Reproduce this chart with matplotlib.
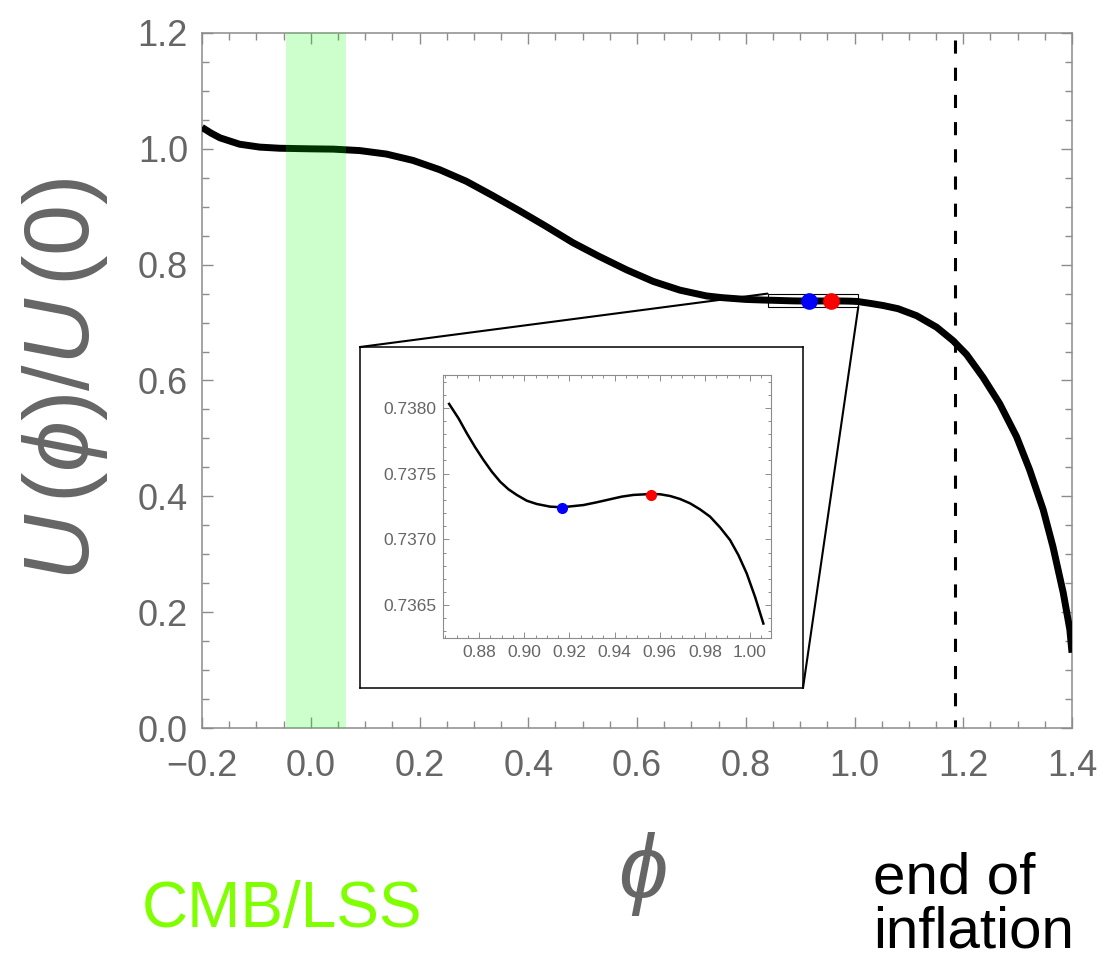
import numpy as np
import matplotlib
matplotlib.use('Agg')
import matplotlib.pyplot as plt
from matplotlib.patches import Rectangle, ConnectionPatch
from matplotlib.ticker import MultipleLocator, FormatStrFormatter, FuncFormatter

plt.rcParams['font.family'] = ['Liberation Sans', 'DejaVu Sans']
plt.rcParams['mathtext.fontset'] = 'custom'
plt.rcParams['mathtext.rm'] = 'Liberation Sans'
plt.rcParams['mathtext.it'] = 'Liberation Sans:italic'
plt.rcParams['mathtext.fallback'] = 'stixsans'

# U(phi)/U(0)
phiLeft = [-0.2, -0.183, -0.167, -0.131, -0.094, -0.057, 0.0, 0.041, 0.090, 0.139, 0.188, 0.237,
           0.286, 0.335, 0.384, 0.433, 0.482, 0.531, 0.581, 0.630, 0.679, 0.728, 0.757, 0.8,
           0.83, 0.85]
uLeft = [1.037, 1.027, 1.019, 1.008, 1.003, 1.001, 1.000, 0.9995, 0.997, 0.991, 0.980, 0.964,
         0.944, 0.919, 0.893, 0.866, 0.838, 0.814, 0.791, 0.771, 0.756, 0.746, 0.743, 0.740,
         0.739, 0.7385]
phiRight = [1.03, 1.0525, 1.08, 1.114, 1.151, 1.181, 1.206, 1.236, 1.267, 1.298, 1.322, 1.347,
            1.365, 1.384, 1.396, 1.4]
uRight = [0.733, 0.7295, 0.724, 0.712, 0.692, 0.669, 0.645, 0.606, 0.560, 0.503, 0.446, 0.377,
          0.313, 0.233, 0.170, 0.13]

# plateau
phiZoom = [0.86671, 0.87085, 0.87454, 0.87823, 0.88192, 0.88561, 0.88930, 0.89299, 0.89668,
           0.90111, 0.90554, 0.91144, 0.91661, 0.92621, 0.93211, 0.93802, 0.94318, 0.94835,
           0.95617, 0.96016, 0.96459, 0.96902, 0.97345, 0.97788, 0.98230, 0.98673, 0.99116,
           0.99485, 0.99854, 1.00223, 1.00592]
uZoom = [0.738030, 0.737921, 0.737807, 0.737701, 0.737604, 0.737515, 0.737439, 0.737381, 0.737338,
         0.737294, 0.737269, 0.737249, 0.737244, 0.737261, 0.737282, 0.737305, 0.737325, 0.737338,
         0.737345, 0.737343, 0.737330, 0.737307, 0.737274, 0.737228, 0.737173, 0.737091, 0.736995,
         0.736881, 0.736741, 0.736563, 0.736360]

phiMin, uMin = 0.9166, 0.73724
phiMax, uMax = 0.9562, 0.73734
cmbBand = (-0.045, 0.065)
phiEnd = 1.184
zoomX = (0.84, 1.007)
zoomY = (0.727, 0.750)

W, H = 1101, 966
def pixbox(x0, y0, x1, y1):
    return [x0 / W, 1 - y1 / H, (x1 - x0) / W, (y1 - y0) / H]

gray = '#666666'
spineGray = '#8c8c8c'
minusFmt = FuncFormatter(lambda v, p: ('%.1f' % v).replace('-', '\u2212'))

fig = plt.figure(figsize=(W / 100, H / 100), dpi=100)
ax = fig.add_axes(pixbox(202, 33, 1072, 728))

phiAll = np.concatenate([phiLeft, phiZoom, phiRight])
uAll = np.concatenate([uLeft, uZoom, uRight])
ax.plot(phiAll, uAll, color='black', lw=5, solid_capstyle='butt', solid_joinstyle='round', zorder=3)
ax.axvspan(cmbBand[0], cmbBand[1], color='#00ff00', alpha=0.2, lw=0, zorder=4)
ax.plot([phiEnd, phiEnd], [1.188, 0.0], color='black', lw=2.2, dashes=(4.3, 4.6), zorder=2)
ax.add_patch(Rectangle((zoomX[0], zoomY[0]), zoomX[1] - zoomX[0], zoomY[1] - zoomY[0],
                       fill=False, ec='black', lw=0.8, zorder=2))
ax.plot([phiMin], [uMin], 'o', color='blue', ms=11, zorder=5)
ax.plot([phiMax], [uMax], 'o', color='red', ms=11, zorder=5)

ax.set_xlim(-0.2, 1.4)
ax.set_ylim(0, 1.2)
ax.xaxis.set_major_locator(MultipleLocator(0.2))
ax.xaxis.set_minor_locator(MultipleLocator(0.05))
ax.yaxis.set_major_locator(MultipleLocator(0.2))
ax.yaxis.set_minor_locator(MultipleLocator(0.05))
ax.xaxis.set_major_formatter(minusFmt)
ax.yaxis.set_major_formatter(minusFmt)
ax.tick_params(which='both', direction='in', top=True, right=True, color=spineGray, width=1.0)
ax.tick_params(which='major', length=8, labelsize=26, labelcolor=gray)
ax.tick_params(axis='x', which='major', pad=15)
ax.tick_params(axis='y', which='major', pad=10)
ax.tick_params(which='minor', length=5)
for s in ax.spines.values():
    s.set_color(spineGray)
    s.set_linewidth(1.1)

# inset frame and inset axes
frame = fig.add_axes(pixbox(360, 347, 803, 688))
frame.set_xticks([])
frame.set_yticks([])
for s in frame.spines.values():
    s.set_color('black')
    s.set_linewidth(1.1)

ins = fig.add_axes(pixbox(443, 375, 771, 638))
ins.plot(phiZoom, uZoom, color='black', lw=1.8, solid_joinstyle='round')
ins.plot([phiMin], [uMin], 'o', color='blue', ms=7)
ins.plot([phiMax], [uMax], 'o', color='red', ms=7)
ins.set_xlim(0.864, 1.0093)
ins.set_ylim(0.73625, 0.73825)
ins.xaxis.set_major_locator(MultipleLocator(0.02))
ins.xaxis.set_minor_locator(MultipleLocator(0.005))
ins.yaxis.set_major_locator(MultipleLocator(0.0005))
ins.yaxis.set_minor_locator(MultipleLocator(0.0001))
ins.xaxis.set_major_formatter(FormatStrFormatter('%.2f'))
ins.yaxis.set_major_formatter(FormatStrFormatter('%.4f'))
ins.tick_params(which='both', direction='in', top=True, right=True, color=spineGray, width=0.7)
ins.tick_params(which='major', length=4, labelsize=12.5, labelcolor=gray, pad=5)
ins.tick_params(which='minor', length=2)
for s in ins.spines.values():
    s.set_color(spineGray)
    s.set_linewidth(0.8)

# zoom connectors
for xyA, xyB in [((zoomX[0], zoomY[1]), (0, 1)), ((zoomX[1], zoomY[0]), (1, 0))]:
    con = ConnectionPatch(xyA=xyA, coordsA=ax.transData, xyB=xyB, coordsB=frame.transAxes,
                          color='black', lw=1.5, zorder=6)
    fig.add_artist(con)

# labels
fig.text(65 / W, 1 - 379 / H, r'$U\,(\phi)/U\,(0)$', rotation=90, ha='center', va='center',
         fontsize=66, color=gray)
fig.text(642 / W, 1 - 874 / H, r'$\phi$', ha='center', va='center', fontsize=64, color=gray)
fig.text(142 / W, 1 - 927 / H, 'CMB/LSS', ha='left', va='baseline', fontsize=46, color='#80ff00')
fig.text(873 / W, 1 - 947 / H, 'end of\ninflation', ha='left', va='baseline', fontsize=42,
         color='black', linespacing=1.0)

fig.savefig('out.png', dpi=100)
